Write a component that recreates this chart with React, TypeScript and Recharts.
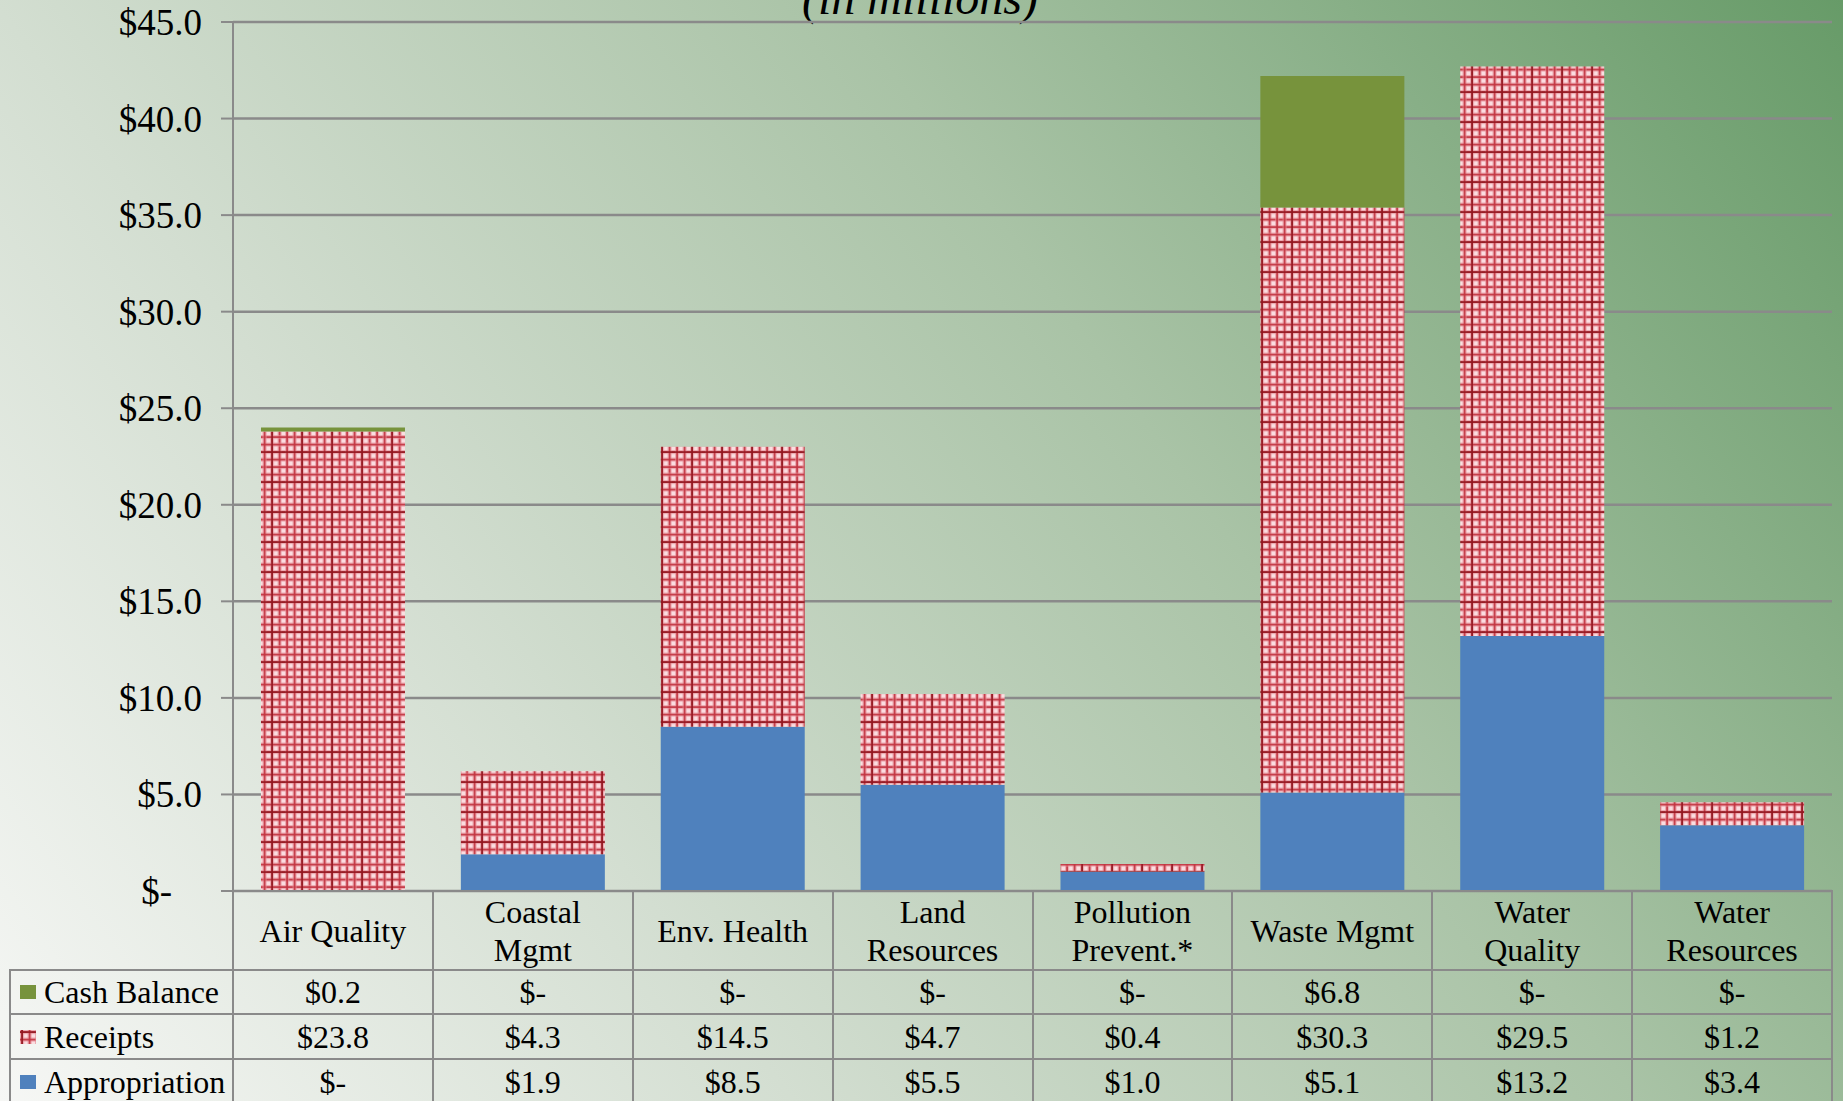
import React from "react";
import { BarChart, Bar, XAxis, YAxis, CartesianGrid } from "recharts";

const categories = [
  "Air Quality",
  "Coastal Mgmt",
  "Env. Health",
  "Land Resources",
  "Pollution Prevent.*",
  "Waste Mgmt",
  "Water Quality",
  "Water Resources",
];
// header text as it wraps in the data table
const headerLines = [
  ["Air Quality"],
  ["Coastal", "Mgmt"],
  ["Env. Health"],
  ["Land", "Resources"],
  ["Pollution", "Prevent.*"],
  ["Waste Mgmt"],
  ["Water", "Quality"],
  ["Water", "Resources"],
];
const cashBalance = [0.2, 0, 0, 0, 0, 6.8, 0, 0];
const receipts = [23.8, 4.3, 14.5, 4.7, 0.4, 30.3, 29.5, 1.2];
const appropriation = [0, 1.9, 8.5, 5.5, 1.0, 5.1, 13.2, 3.4];
const yTicks = [0, 5, 10, 15, 20, 25, 30, 35, 40, 45];

const data = categories.map((name, i) => ({
  name,
  cash: cashBalance[i],
  receipts: receipts[i],
  appropriation: appropriation[i],
}));

const W = 1843;
const H = 1101;
const PLOT_LEFT = 233;
const PLOT_RIGHT = 1832;
const PLOT_TOP = 22;
const PLOT_BOTTOM = 891;
const COL_W = (PLOT_RIGHT - PLOT_LEFT) / categories.length;

const BLUE = "#4F81BD";
const GREEN = "#77933C";
const BORDER = "#8a8a8a";
const FONT = "'Liberation Serif', 'Times New Roman', serif";

const money = (v: number) => (v === 0 ? "$-" : "$" + v.toFixed(1));

function PlaidDefs() {
  const cells = [0, 7.5, 15, 22.5];
  return (
    <svg width={0} height={0} style={{ position: "absolute" }}>
      <defs>
        <pattern id="plaid" patternUnits="userSpaceOnUse" width={30} height={30}>
          <rect width={30} height={30} fill="#fbdde0" />
          {cells.map((c) => (
            <g key={c}>
              <rect x={c} y={0} width={4.2} height={30} fill="#e48c94" opacity={0.6} />
              <rect x={0} y={c} width={30} height={4.2} fill="#e48c94" opacity={0.6} />
              <rect x={c + 1.2} y={0} width={1.8} height={30} fill="#c23440" opacity={0.9} />
              <rect x={0} y={c + 1.2} width={30} height={1.8} fill="#c23440" opacity={0.9} />
            </g>
          ))}
          <rect x={1.2} y={0} width={1.8} height={30} fill="#8f1620" opacity={0.85} />
          <rect x={0} y={1.2} width={30} height={1.8} fill="#8f1620" opacity={0.85} />
        </pattern>
      </defs>
    </svg>
  );
}

function YTick(props: any) {
  const { x, y, payload } = props;
  const zero = payload.value === 0;
  return (
    <text
      x={zero ? x - 30 : x}
      y={y}
      dy="0.35em"
      textAnchor="end"
      fontFamily={FONT}
      fontSize={37}
      fill="#000"
    >
      {zero ? "$-" : "$" + payload.value.toFixed(1)}
    </text>
  );
}

function Cell({ left, top, width, height, children, align = "center", border = true }: any) {
  return (
    <div
      style={{
        position: "absolute",
        left: left - 1,
        top: top - 1,
        width: width + 2,
        height: height + 2,
        boxSizing: "border-box",
        border: border ? `2px solid ${BORDER}` : "none",
        display: "flex",
        flexDirection: "column",
        alignItems: align === "left" ? "flex-start" : "center",
        justifyContent: "center",
        fontFamily: FONT,
        fontSize: 32,
        lineHeight: "38px",
        color: "#000",
        whiteSpace: "nowrap",
      }}
    >
      {children}
    </div>
  );
}

function DataTable() {
  const headerTop = PLOT_BOTTOM;
  const headerH = 79;
  const rowH = [44, 45, 45];
  const rowTops = [headerTop + headerH, headerTop + headerH + rowH[0], headerTop + headerH + rowH[0] + rowH[1]];
  const rows = [
    { label: "Cash Balance", values: cashBalance, key: <span style={{ width: 16, height: 14, background: GREEN, display: "inline-block" }} /> },
    {
      label: "Receipts",
      values: receipts,
      key: (
        <svg width={16} height={14} style={{ display: "inline-block" }}>
          <rect width={16} height={14} fill="url(#plaid)" />
        </svg>
      ),
    },
    { label: "Appropriation", values: appropriation, key: <span style={{ width: 16, height: 14, background: BLUE, display: "inline-block" }} /> },
  ];
  return (
    <>
      {headerLines.map((lines, i) => (
        <Cell key={"h" + i} left={PLOT_LEFT + i * COL_W} top={headerTop} width={COL_W} height={headerH}>
          {lines.map((l) => (
            <div key={l}>{l}</div>
          ))}
        </Cell>
      ))}
      {rows.map((r, ri) => (
        <React.Fragment key={r.label}>
          <Cell left={10} top={rowTops[ri]} width={PLOT_LEFT - 10} height={rowH[ri]} align="left">
            <div style={{ display: "flex", alignItems: "center", paddingLeft: 9 }}>
              {r.key}
              <span style={{ marginLeft: 8 }}>{r.label}</span>
            </div>
          </Cell>
          {r.values.map((v, i) => (
            <Cell key={i} left={PLOT_LEFT + i * COL_W} top={rowTops[ri]} width={COL_W} height={rowH[ri]}>
              {money(v)}
            </Cell>
          ))}
        </React.Fragment>
      ))}
    </>
  );
}

export default function App() {
  return (
    <div
      style={{
        position: "fixed",
        top: 0,
        left: 0,
        width: W,
        height: H,
        overflow: "hidden",
        background: "linear-gradient(54deg, #f6f7f5 0%, #d3ded1 30%, #a9c3a6 62%, #679b68 100%)",
      }}
    >
      <PlaidDefs />
      <div
        style={{
          position: "absolute",
          left: 0,
          width: 1840,
          top: -30,
          textAlign: "center",
          fontFamily: FONT,
          fontStyle: "italic",
          fontSize: 48,
          lineHeight: "56px",
          color: "#000",
        }}
      >
        (in millions)
      </div>
      <div style={{ position: "absolute", left: 0, top: 0 }}>
        <BarChart
          width={W}
          height={H}
          data={data}
          margin={{ top: PLOT_TOP, right: W - PLOT_RIGHT, bottom: H - PLOT_BOTTOM, left: 0 }}
          barCategoryGap="14%"
        >
          <CartesianGrid vertical={false} stroke={BORDER} strokeWidth={2.5} />
          <XAxis dataKey="name" hide />
          <YAxis
            width={PLOT_LEFT}
            domain={[0, 45]}
            ticks={yTicks}
            interval={0}
            tickSize={12}
            tickMargin={19}
            tick={YTick}
            axisLine={{ stroke: BORDER, strokeWidth: 2 }}
            tickLine={{ stroke: BORDER, strokeWidth: 2 }}
          />
          <Bar dataKey="appropriation" stackId="a" fill={BLUE} isAnimationActive={false} />
          <Bar dataKey="receipts" stackId="a" fill="url(#plaid)" isAnimationActive={false} />
          <Bar dataKey="cash" stackId="a" fill={GREEN} isAnimationActive={false} />
        </BarChart>
      </div>
      <DataTable />
    </div>
  );
}
